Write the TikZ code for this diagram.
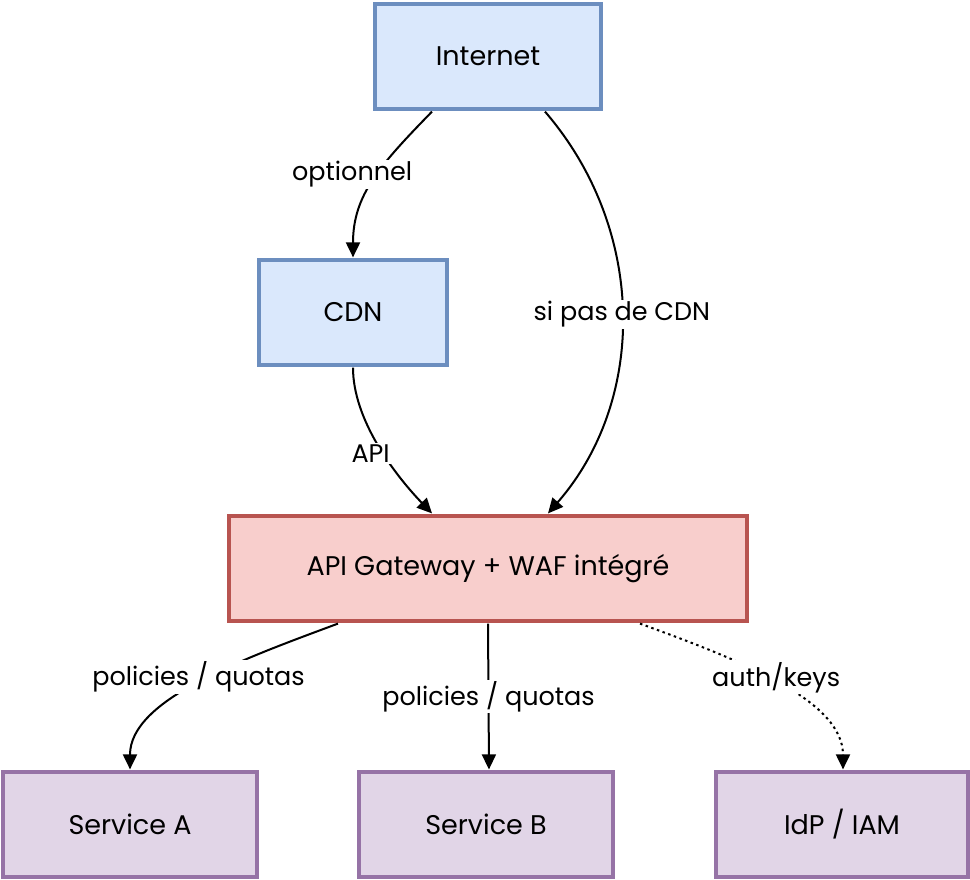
\documentclass[tikz,border=0pt]{standalone}
\usepackage{fontspec}
\setmainfont{Poppins}
\usetikzlibrary{arrows.meta}
\definecolor{bluefill}{HTML}{DAE8FC}
\definecolor{blueline}{HTML}{6C8EBF}
\definecolor{redfill}{HTML}{F8CECC}
\definecolor{redline}{HTML}{B85450}
\definecolor{purfill}{HTML}{E1D5E7}
\definecolor{purline}{HTML}{9673A6}
\tikzset{
  box/.style={draw, line width=3.2pt, minimum height=105pt, inner sep=0pt, font=\fontsize{27}{32}\selectfont},
  bluebox/.style={box, fill=bluefill, draw=blueline},
  redbox/.style={box, fill=redfill, draw=redline},
  purbox/.style={box, fill=purfill, draw=purline},
  conn/.style={line width=2pt, -{Triangle[length=15pt,width=14pt]}},
  dots/.style={dash pattern=on 2.5pt off 3.5pt},
  lbl/.style={fill=white, inner sep=1.5pt, font=\fontsize{25.5}{30}\selectfont}
}
\begin{document}
\begin{tikzpicture}[x=1pt,y=-1pt]
\useasboundingbox (0,0) rectangle (970,880);
\node[bluebox, minimum width=226pt] (inet) at (488,56.5) {Internet};
\node[bluebox, minimum width=188pt] (cdn) at (353,312.5) {CDN};
\node[redbox, minimum width=518pt] (gw) at (488,568.5) {API Gateway + WAF intégré};
\node[purbox, minimum width=254pt] (sa) at (130,824.5) {Service A};
\node[purbox, minimum width=254pt] (sb) at (486,824.5) {Service B};
\node[purbox, minimum width=252pt] (idp) at (842,824.5) {IdP / IAM};

\draw[conn] ([xshift=-56pt,yshift=-1pt]inet.south) .. controls (380,165) and (353,195) .. ([yshift=1pt]cdn.north)
  node[lbl, pos=0.45, xshift=-25pt] {optionnel};
\draw[conn] ([xshift=57pt,yshift=-1pt]inet.south) .. controls (647,230) and (647,400) .. ([xshift=60pt,yshift=1pt]gw.north)
  node[lbl, pos=0.5] {si pas de CDN};
\draw[conn] ([yshift=-1pt]cdn.south) .. controls (353,420) and (395,475) .. ([xshift=-56pt,yshift=1pt]gw.north)
  node[lbl, pos=0.5, xshift=-8pt, yshift=-8pt] {API};
\draw[conn] ([xshift=-150pt,yshift=-1pt]gw.south) .. controls (240,660) and (130,700) .. ([yshift=1pt]sa.north)
  node[lbl, pos=0.45, xshift=-11pt] {policies / quotas};
\draw[conn] ([xshift=0pt,yshift=-1pt]gw.south) -- ([xshift=3pt,yshift=1pt]sb.north)
  node[lbl, pos=0.5] {policies / quotas};
\draw[conn, dots] ([xshift=152pt,yshift=-1pt]gw.south) .. controls (740,660) and (843,700) .. ([xshift=1pt,yshift=1pt]idp.north)
  node[lbl, pos=0.45, xshift=9pt, solid] {auth/keys};
\end{tikzpicture}
\end{document}
